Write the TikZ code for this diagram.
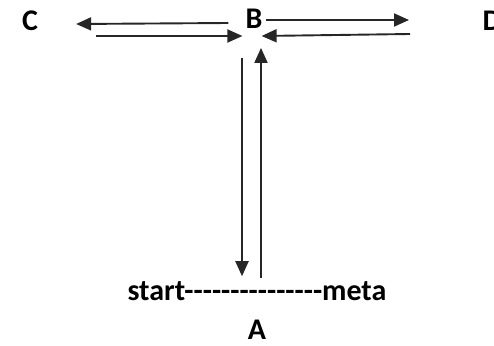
\documentclass[tikz,border=0pt]{standalone}
\usepackage{fontspec}
\setmainfont{Carlito}[Ligatures=TeXOff]
\usetikzlibrary{calc, arrows.meta}

\begin{document}
\begin{tikzpicture}[
    x=1pt, y=-1pt,
    letter/.style={inner sep=0pt, font=\bfseries\fontsize{30}{31}\selectfont},
    arrow/.style={-{Triangle[length=15pt, width=13pt]}, line width=1.9pt, draw=black!85},
  ]
    \useasboundingbox (0,0) rectangle (494,345);

    % Letters
    \node[letter] (C) at (30,21) {C};
    \node[letter] (B) at (254,19) {B};
    \node[letter] (D) at (492,21) {D};
    \node[letter] (LINE) at (257,291) {start---------------meta};
    \node[letter] (A) at (257,330) {A};

    % Arrow ends round B
    \coordinate (BCout) at ($(B.west)+(-17,4)$);
    \coordinate (BCin)  at ($(B.west)+(-3,17)$);
    \coordinate (BDout) at ($(B.east)+(3,1)$);
    \coordinate (BDin)  at ($(B.east)+(-1,17)$);
    \coordinate (BAout) at ($(B.south)+(-12,29)$);
    \coordinate (BAin)  at ($(B.south)+(7,19)$);

    % Arrow ends away from B
    \coordinate (CL) at ($(C.east)+(38,3)$);
    \coordinate (CR) at ($(C.east)+(58,15)$);
    \coordinate (DL) at (409,20);
    \coordinate (DR) at (410,34);
    \coordinate (AL) at ($(LINE.north)+(-15,-5)$);
    \coordinate (AR) at ($(LINE.north)+(4,-3)$);

    % Horizontal arrows
    \draw[arrow] (BCout) -- (CL);
    \draw[arrow] (CR) -- (BCin);
    \draw[arrow] (BDout) -- (DL);
    \draw[arrow] (DR) -- (BDin);

    % Vertical arrows
    \draw[arrow] (BAout) -- (AL);
    \draw[arrow] (AR) -- (BAin);
\end{tikzpicture}
\end{document}
